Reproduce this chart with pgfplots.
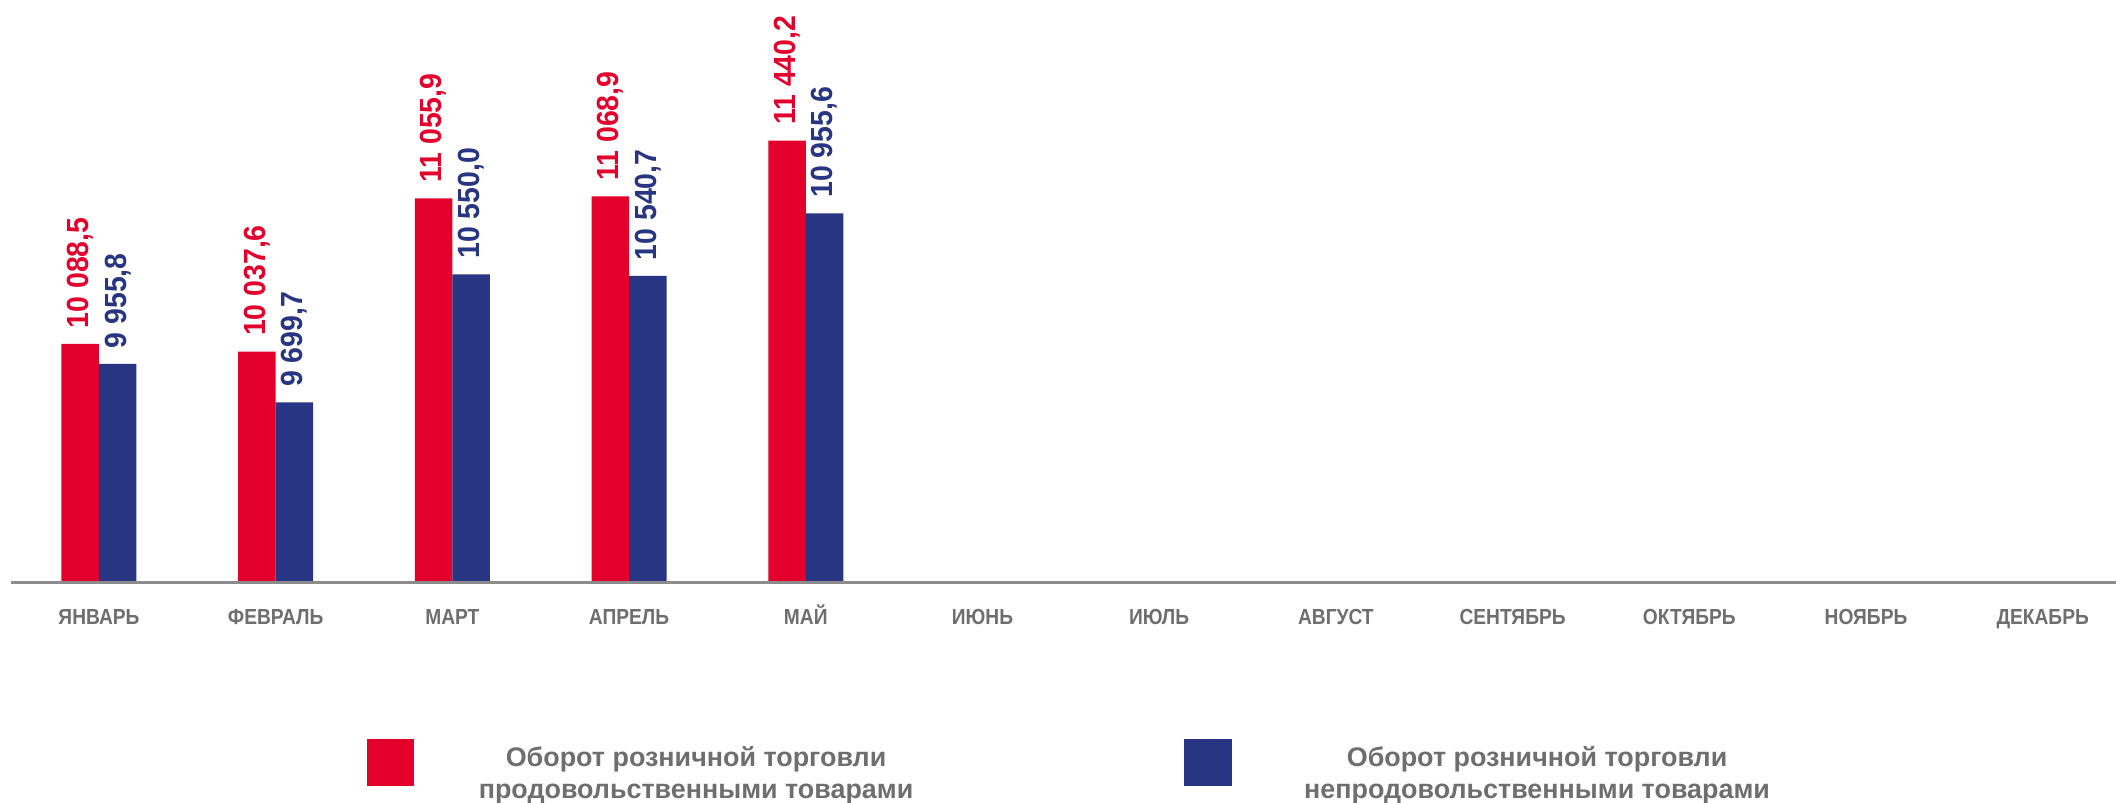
\documentclass[border=0pt]{standalone}
\usepackage{fontspec}
\setmainfont{Liberation Sans}
\newfontfamily\narrowsans[FakeStretch=0.88]{Liberation Sans}
\newfontfamily\valuesans[FakeStretch=0.93]{Liberation Sans}
\usepackage{pgfplots}
\pgfplotsset{compat=1.18}
\definecolor{redbar}{RGB}{227,0,43}
\definecolor{bluebar}{RGB}{40,53,131}
\definecolor{labelgray}{RGB}{110,110,110}
\definecolor{axisgray}{RGB}{140,140,140}
\begin{document}
\begin{tikzpicture}
\useasboundingbox (0,0) rectangle (21.16,8.03);
\begin{axis}[
  at={(0.106cm,2.20cm)}, anchor=south west,
  scale only axis, width=21.054cm, height=5.83cm,
  xmin=-0.5, xmax=11.415, ymin=8500, ymax=12374,
  enlargelimits=false,
  ybar, bar width=0.375cm,
  axis x line=bottom, axis y line=none,
  x axis line style={-, line width=0.03cm, color=axisgray},
  xtick={0,...,11},
  xticklabels={ЯНВАРЬ,ФЕВРАЛЬ,МАРТ,АПРЕЛЬ,МАЙ,ИЮНЬ,ИЮЛЬ,АВГУСТ,СЕНТЯБРЬ,ОКТЯБРЬ,НОЯБРЬ,ДЕКАБРЬ},
  xtick style={draw=none}, ytick=\empty,
  xticklabel style={anchor=base, yshift=-0.34cm, text=labelgray,
    font=\narrowsans\fontsize{6.2}{7}\selectfont\bfseries},
  axis on top,
  nodes near coords={\pgfmathprintnumber[fixed,fixed zerofill,precision=1,use comma,1000 sep={\ },assume math mode=true]{\pgfplotspointmeta}},
  nodes near coords style={rotate=90, anchor=west, inner ysep=0pt, inner xsep=0.15cm,
    font=\valuesans\fontsize{8.7}{10}\selectfont\bfseries},
]
  % продовольственные товары
  \addplot[fill=redbar, draw=none, bar shift=-0.1875cm,
    every node near coord/.append style={text=redbar}]
    coordinates {(0,10088.5) (1,10037.6) (2,11055.9) (3,11068.9) (4,11440.2)};
  % непродовольственные товары
  \addplot[fill=bluebar, draw=none, bar shift=0.1875cm,
    every node near coord/.append style={text=bluebar}]
    coordinates {(0,9955.8) (1,9699.7) (2,10550.0) (3,10540.7) (4,10955.6)};
\end{axis}
% legend
\fill[redbar] (3.67,0.17) rectangle (4.14,0.64);
\fill[bluebar] (11.84,0.17) rectangle (12.32,0.64);
\begin{scope}[every node/.style={anchor=base, text=labelgray, inner sep=0pt,
    font=\fontsize{7.65}{9}\selectfont\bfseries}]
  \node at (6.96,0.36) {Оборот розничной торговли};
  \node at (6.96,0.04) {продовольственными товарами};
  \node at (15.37,0.36) {Оборот розничной торговли};
  \node at (15.37,0.04) {непродовольственными товарами};
\end{scope}
\end{tikzpicture}
\end{document}
